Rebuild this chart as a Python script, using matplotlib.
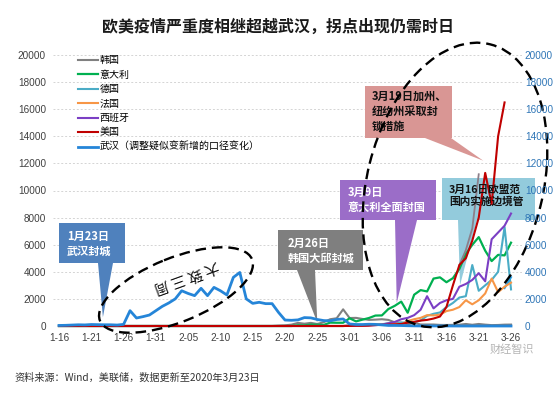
import matplotlib
matplotlib.use("Agg")
import matplotlib.pyplot as plt
import matplotlib.transforms as mtrans
from matplotlib.patches import Ellipse, Polygon
import numpy as np
import pandas as pd

W, H = 560, 393
CJK = ["Noto Sans CJK SC", "DejaVu Sans"]
NUM = ["Liberation Sans", "DejaVu Sans"]
plt.rcParams["font.family"] = CJK

nan = np.nan
dates = pd.date_range("2020-01-16", "2020-03-26", freq="D")
date_labels = [f"{d.month}-{d.day:02d}" for d in dates]

# daily new cases (1-16 .. 3-26)
korea = [0, 0, 0, 0, 1, 0, 0, 1, 0, 0,
         1, 0, 0, 0, 0, 4, 1, 3, 0, 1,
         2, 4, 1, 0, 0, 1, 0, 0, 0, 0,
         1, 0, 1, 1,
         30, 50, 100, 230, 170, 230, 150, 280, 500, 570, 1230,
         590, 600, 520, 450, 470, 500, 450, 270, 250, 130,
         240, 110, 110, 110, 80, 75, 85, 95, 150, 90,
         150, 100, 65, 75, 100, 105]
italy = [0, 0, 0, 0, 0, 0, 0, 0, 0, 0,
         0, 0, 0, 0, 0, 0, 0, 0, 0, 0,
         0, 0, 0, 0, 0, 0, 0, 0, 0, 0,
         0, 0, 0, 0, 0, 0, 0,
         60, 50, 100, 95, 80, 250, 240, 240,
         570, 340, 470, 590, 770, 780, 1250, 1490, 1800, 980,
         2310, 2650, 2550, 3500, 3590, 3230, 3530, 4210, 5320, 5990,
         6560, 5560, 4790, 5250, 5210, 6150]
germany = [0, 0, 0, 0, 0, 0, 0, 0, 0, 0,
           0, 0, 0, 0, 0, 0, 0, 0, 0, 0,
           0, 0, 0, 0, 0, 0, 0, 0, 0, 0,
           0, 0, 0, 0, 0, 0, 0, 0, 0, 0,
           0, 0, 0, 0, 0,
           50, 30, 40, 70, 100, 130, 200, 150, 250, 280,
           300, 400, 750, 900, 1000, 1400, 1700, 2100, 2200, 4500,
           2600, 3000, 3400, 4000, 7300, 2700]
germany_rev = [nan] * 69 + [2800, 3600]
france = [0, 0, 0, 0, 0, 0, 0, 0, 0, 0,
          0, 0, 0, 0, 0, 0, 0, 0, 0, 0,
          0, 0, 0, 0, 0, 0, 0, 0, 0, 0,
          0, 0, 0, 0, 0, 0, 0, 0, 0, 0,
          0, 0, 0, 0, 0,
          30, 60, 20, 70, 140, 100, 170, 200, 100, 370,
          500, 600, 800, 780, 840, 1100, 1200, 1400, 1900, 1600,
          1900, 2400, 3500, 2500, 2900, 3200]
spain = [0, 0, 0, 0, 0, 0, 0, 0, 0, 0,
         0, 0, 0, 0, 0, 0, 0, 0, 0, 0,
         0, 0, 0, 0, 0, 0, 0, 0, 0, 0,
         0, 0, 0, 0, 0, 0, 0, 0, 0, 0,
         0, 0, 0, 0, 0,
         10, 30, 40, 50, 60, 100, 200, 300, 500, 600,
         800, 1200, 2200, 1300, 1700, 1900, 2000, 2900, 3100, 3400,
         3900, 3300, 6400, 6900, 7400, 8300]
usa = [0, 0, 0, 0, 0, 0, 0, 0, 0, 0,
       0, 0, 0, 0, 0, 0, 0, 0, 0, 0,
       0, 0, 0, 0, 0, 0, 0, 0, 0, 0,
       0, 0, 0, 0, 0, 0, 0, 0, 0, 0,
       0, 0, 0, 0, 0,
       5, 20, 20, 30, 70, 80, 100, 120, 150, 250,
       300, 400, 450, 550, 700, 1400, 3000, 4500, 5000, 6300,
       8000, 11300, 9000, 14000, 16500, nan]
usa_rev = [nan] * 62 + [4500, 5600, 7200, 11200] + [nan] * 5
wuhan = [40, 50, 70, 90, 80, 110, 100, 90, 90, 70,
         120, 1130, 590, 690, 810, 1130, 1450, 1700, 2000, 2600,
         2400, 2240, 2780, 2240, 2850, 2600, 2290, 3590, 3950, 2000,
         1670, 1750, 1650, 1650, 1000, 440, 420, 450, 620, 600,
         480, 400, 380, 480, 520, 150, 110, 110, 130, 120,
         80, 40, 40, 35, 20, 10, 5, 5, 5, 4,
         1, 1, 0, 0, 0, 0, 0, 0, 0, 0, 0]

series = [
    ("韩国", korea, "#808080", 1.5),
    ("意大利", italy, "#00b050", 1.6),
    ("德国", germany, "#4bacc6", 1.5),
    ("_de_rev", germany_rev, "#2aa4e8", 1.5),
    ("法国", france, "#f79646", 1.5),
    ("西班牙", spain, "#7b3fc4", 1.5),
    ("_us_rev", usa_rev, "#8c7f8a", 1.3),
    ("美国", usa, "#c00000", 1.5),
    ("武汉（调整疑似变新增的口径变化）", wuhan, "#2585d8", 2.0),
]

TITLE = "欧美疫情严重度相继超越武汉，拐点出现仍需时日"
SOURCE = "资料来源：Wind，美联储，数据更新至2020年3月23日"

fig = plt.figure(figsize=(W / 100, H / 100), dpi=100)
ax = fig.add_axes([53 / W, 1 - 326 / H, 469 / W, 271 / H])
x = np.arange(len(dates))

for label, vals, color, lw in series:
    ax.plot(x, vals, color=color, lw=lw, label=label, clip_on=False,
            solid_joinstyle="round", zorder=2)

ax.set_xlim(-0.93, 71.7)
ax.set_ylim(0, 20000)
ax.set_yticks(range(0, 20001, 2000))
ax.set_xticks(x[::5], date_labels[::5])
for s in ax.spines.values():
    s.set_visible(False)
ax.set_axisbelow(True)
ax.grid(axis="y", color="#d4d4d4", lw=0.7, linestyle=(0, (2, 2)))
ax.tick_params(length=0, labelsize=7.2, labelcolor="#404040")
ax.tick_params(axis="x", pad=5)
ax.tick_params(axis="y", pad=5)
for lbl in ax.get_xticklabels() + ax.get_yticklabels():
    lbl.set_fontfamily(NUM)

ax2 = ax.twinx()
ax2.set_ylim(0, 20000)
ax2.set_yticks(range(0, 20001, 2000))
for s in ax2.spines.values():
    s.set_visible(False)
ax2.tick_params(length=0, labelsize=7.2, labelcolor="#2e75b6", pad=2)
for lbl in ax2.get_yticklabels():
    lbl.set_fontfamily(NUM)

ax.legend(loc="upper left", bbox_to_anchor=(78 / W, 1 - 55 / H),
          bbox_transform=fig.transFigure, frameon=False, fontsize=7.2,
          handlelength=2.0, handletextpad=0.15, labelspacing=0.45,
          borderpad=0, borderaxespad=0)

fig.text(278 / W, 1 - 27 / H, TITLE, ha="center", va="center",
         fontsize=11.5, weight="bold", color="#1a1a1a")
fig.text(14 / W, 1 - 378 / H, SOURCE, ha="left", va="center",
         fontsize=7.3, color="#333333")
fig.text(512 / W, 1 - 350 / H, "财经智识", ha="center", va="center",
         fontsize=8, color="#b4b4b4")

# image-pixel coordinates (origin top-left)
PX = mtrans.Affine2D().scale(1 / W, -1 / H).translate(0, 1) + fig.transFigure


def tip_px(i, v):
    dx, dy = ax.transData.transform((i, v))
    return dx, H - dy


def callout(box, base, tip, color, text, txy, tcolor, ha="center", size=8):
    x0, y0, x1, y1 = box
    pts = [(x0, y0), (x1, y0), (x1, y1), (base[1], y1), tip,
           (base[0], y1), (x0, y1)]
    ax.add_patch(Polygon(pts, closed=True, transform=PX, facecolor=color,
                         edgecolor="none", zorder=1.5, clip_on=False))
    ax.text(*txy, text, transform=PX, ha=ha, va="center", multialignment="left",
            fontsize=size, weight="bold", color=tcolor, linespacing=1.2,
            zorder=4, clip_on=False)


callout((59, 223, 125, 263), (98, 113), tip_px(6.8, 650), "#4f81bd",
        "1月23日\n武汉封城", (89, 244), "white")
callout((278, 230, 363, 270), (297, 315), tip_px(40, 250), "#7f7f7f",
        "2月26日\n韩国大邱封城", (321, 251), "white")
callout((340, 180, 436, 220), (395, 417), tip_px(52.3, 1700), "#9b6dc8",
        "3月9日\n意大利全面封国", (348, 200), "white", ha="left")
callout((442, 178, 535, 220), (458, 477), tip_px(62.1, 3000), "#93cbdc",
        "3月16日欧盟范\n围内实施边境管", (449, 196), "#111111", ha="left",
        size=7.7)
callout((365, 86, 452, 138), (425, 451), tip_px(65.7, 12200), "#d99694",
        "3月19日加州、\n纽约州采取封\n锁措施", (372, 111), "#111111", ha="left")

dash = (0, (4.5, 2.5))
ax.add_patch(Ellipse((176, 290), 164, 64, angle=-22, transform=PX, fill=False,
                     edgecolor="black", lw=1.7, linestyle=dash, zorder=5,
                     clip_on=False))
ax.add_patch(Ellipse((455, 185), 290, 176, angle=-76, transform=PX, fill=False,
                     edgecolor="black", lw=1.7, linestyle=dash, zorder=5,
                     clip_on=False))
ax.text(186, 276, "大 致 三 周", transform=PX, rotation=200,
        rotation_mode="anchor", ha="center", va="center", fontsize=10.5,
        color="#111111", zorder=6)

fig.savefig("out.png", dpi=100)
